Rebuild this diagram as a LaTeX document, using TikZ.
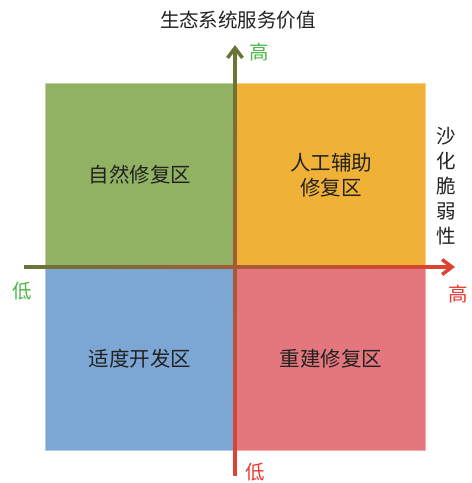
\documentclass[tikz,border=0pt]{standalone}
\usepackage{fontspec}
\setmainfont{Noto Sans CJK SC}
\usetikzlibrary{calc}
\usetikzlibrary{arrows.meta}

\definecolor{quadgreen}{RGB}{145,178,99}
\definecolor{quadorange}{RGB}{240,177,55}
\definecolor{quadblue}{RGB}{124,167,212}
\definecolor{quadred}{RGB}{228,118,125}
\definecolor{axisolive}{RGB}{104,118,56}
\definecolor{axisyellow}{RGB}{236,214,40}
\definecolor{axisred}{RGB}{222,66,50}
\definecolor{labgreen}{RGB}{76,182,72}
\definecolor{labred}{RGB}{232,56,46}
\definecolor{txt}{RGB}{34,34,34}

\tikzset{
    quad/.style = {minimum width=189pt, minimum height=183pt, inner sep=0pt,
        line width=0.8pt, text=txt, align=center,
        font=\fontsize{20.5}{25}\selectfont},
    lab/.style = {inner sep=0pt, font=\fontsize{19.5}{25}\selectfont},
    tipbarb/.style = {-{Straight Barb[length=10pt,width=15pt]}}
}

\begin{document}
\begin{tikzpicture}[x=1pt,y=-1pt]
    \useasboundingbox (0,0) rectangle (472,483);

    % quadrants
    \node[quad, fill=quadgreen, draw=quadgreen!60!white] (natural) at (140,175) {自然修复区};
    \node[quad, fill=quadorange, draw=quadorange!60!white] (assisted) at (331,175) {人工辅助\\修复区};
    \node[quad, fill=quadblue, draw=quadblue!60!white] (develop) at (140,359) {适度开发区};
    \node[quad, fill=quadred, draw=quadred!60!white] (rebuild) at (331,359) {重建修复区};

    % axis ends
    \coordinate (ytop) at (235,45);
    \coordinate (ybot) at (235,475);
    \coordinate (xleft) at (24,267);
    \coordinate (xright) at (455,267);

    % gradient axes
    \shade[top color=axisolive, middle color=axisyellow, bottom color=axisred]
        ($(ybot)+(-1.75,0)$) rectangle ($(ytop)+(1.75,10)$);
    \shade[left color=axisolive, middle color=axisyellow, right color=axisred]
        ($(xleft)+(0,-1.75)$) rectangle ($(xright)+(-10,1.75)$);
    \draw[axisolive, line width=3.5pt, tipbarb] ($(ytop)+(0,14)$) -- (ytop);
    \draw[axisred, line width=3.5pt, tipbarb] ($(xright)+(-14,0)$) -- (xright);

    % axis labels
    \node[lab, text=txt] (ytitle) at (238,20) {生态系统服务价值};
    \node[lab, text=labgreen] (yhigh) at (259,52) {高};
    \node[lab, text=labred] (ylow) at (255,472) {低};
    \node[lab, text=labgreen] (xlow) at (22,291) {低};
    \node[lab, text=labred] (xhigh) at (458,294) {高};
    \node[lab, text=txt, align=center] (xtitle) at (446,186) {沙\\化\\脆\\弱\\性};

\end{tikzpicture}
\end{document}
